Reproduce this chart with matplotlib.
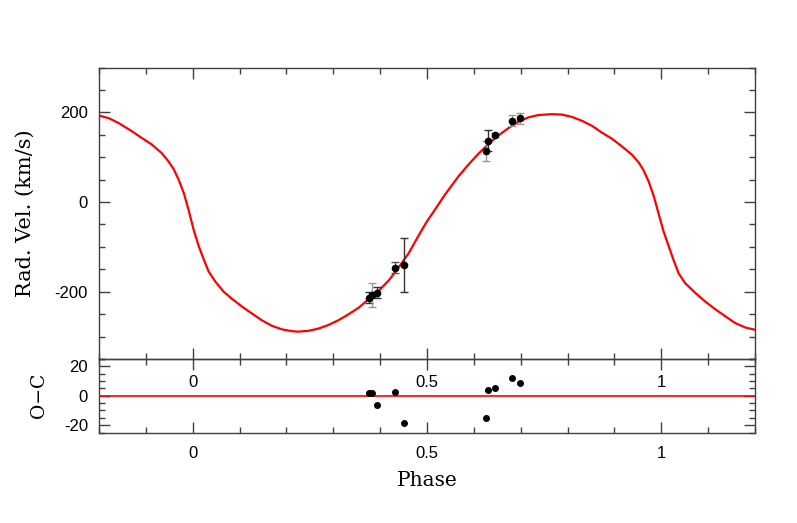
import matplotlib
matplotlib.use("Agg")
import matplotlib.pyplot as plt
from matplotlib.ticker import MultipleLocator, FixedLocator, FixedFormatter

plt.rcParams['axes.unicode_minus'] = False
plt.rcParams['font.family'] = ['Liberation Sans', 'DejaVu Sans']

# ---- observed radial velocities ----
obs_phase = [0.376, 0.382, 0.394, 0.432, 0.450, 0.626, 0.631, 0.645, 0.681, 0.699]
obs_rv = [-213, -207, -202, -146, -140, 114, 137, 150, 181, 187]
obs_err = [13, 27, 12, 11.5, 60, 22, 24, 4, 12, 12]
err_color = ['#333333', '#999999', '#333333', '#555555', '#333333',
             '#999999', '#333333', '#999999', '#999999', '#999999']
obs_resid = [1.6, 2.0, -6.4, 2.5, -18.7, -15.3, 3.8, 5.5, 12.0, 8.9]

# ---- model curve ----
model_phase = [-0.201, -0.179, -0.158, -0.130, -0.109, -0.087, -0.066, -0.052, -0.041, -0.030,
               -0.019, -0.009, 0.002, 0.013, 0.024, 0.034, 0.048, 0.066, 0.084, 0.105,
               0.127, 0.148, 0.169, 0.191, 0.212, 0.226, 0.248, 0.269, 0.290, 0.312,
               0.333, 0.355, 0.376, 0.397, 0.419, 0.440, 0.461, 0.483, 0.500, 0.517,
               0.538, 0.567, 0.588, 0.610, 0.631, 0.653, 0.674, 0.695, 0.717, 0.738,
               0.767, 0.788, 0.809, 0.831, 0.852, 0.873, 0.895, 0.916, 0.937, 0.952,
               0.962, 0.973, 0.984, 0.994, 1.005, 1.016, 1.026, 1.037, 1.051, 1.073,
               1.094, 1.115, 1.137, 1.158, 1.180, 1.201]
model_rv = [193, 187, 176, 158, 143, 128, 109, 91, 74, 50,
            20, -17, -62, -99, -129, -155, -177, -200, -216, -233,
            -249, -264, -276, -284, -288, -289, -287, -282, -274, -263,
            -250, -235, -216, -198, -174, -145, -114, -73, -43, -17,
            16, 57, 83, 108, 129, 149, 165, 179, 189, 194,
            196, 195, 190, 181, 170, 155, 141, 124, 106, 88,
            71, 46, 13, -25, -66, -99, -129, -159, -181, -203,
            -222, -239, -255, -270, -280, -285]

xtick_vals = [0, 0.5, 1]
xtick_labels = ['0', '0.5', '1']
ytick_main = [-200, 0, 200]
ytick_main_labels = ['-200', '0', '200']
ytick_res = [-20, 0, 20]
ytick_res_labels = ['-20', '0', '20']

W, H = 797, 523
fig = plt.figure(figsize=(W / 100, H / 100), dpi=100)
L, R = 99 / W, 755 / W
ax = fig.add_axes([L, 1 - 359 / H, R - L, (359 - 67.5) / H])
axr = fig.add_axes([L, 1 - 432.5 / H, R - L, (432.5 - 359) / H])
ax.set_zorder(2)
axr.set_zorder(1)
ax.patch.set_alpha(0)

spine_c = '#404040'
for a in (ax, axr):
    for s in a.spines.values():
        s.set_color(spine_c)
        s.set_linewidth(1.0)
    a.tick_params(which='both', direction='in', top=True, right=True,
                  color=spine_c, labelsize=12, width=1.0)
    a.tick_params(which='major', length=8)
    a.tick_params(which='minor', length=4.5)
    a.set_xlim(-0.2, 1.2)
    a.xaxis.set_major_locator(FixedLocator(xtick_vals))
    a.xaxis.set_major_formatter(FixedFormatter(xtick_labels))
    a.xaxis.set_minor_locator(MultipleLocator(0.1))

# main panel
ax.plot(model_phase, model_rv, color='#ff0000', lw=1.6, solid_joinstyle='round', zorder=2)
for p, v, e, c in zip(obs_phase, obs_rv, obs_err, err_color):
    ax.errorbar(p, v, yerr=e, fmt='none', ecolor=c, elinewidth=1.0, capsize=3, capthick=1.0, zorder=3)
ax.plot(obs_phase, obs_rv, 'o', color='black', ms=4.5, zorder=4)
ax.set_ylim(-350, 300)
ax.yaxis.set_major_locator(FixedLocator(ytick_main))
ax.yaxis.set_major_formatter(FixedFormatter(ytick_main_labels))
ax.yaxis.set_minor_locator(MultipleLocator(50))
ax.tick_params(axis='x', which='both', labelbottom=True, pad=11.5)
ax.tick_params(axis='y', pad=8)
ax.set_ylabel('Rad. Vel. (km/s)', family=['DejaVu Serif'], fontsize=15)

# residual panel
axr.axhline(0, color='#ff0000', lw=1.2, zorder=2)
axr.plot(obs_phase, obs_resid, 'o', color='black', ms=4, zorder=3)
axr.set_ylim(-25, 25)
axr.yaxis.set_major_locator(FixedLocator(ytick_res))
axr.yaxis.set_major_formatter(FixedFormatter(ytick_res_labels))
axr.yaxis.set_minor_locator(MultipleLocator(5))
axr.tick_params(axis='x', which='both', pad=10)
axr.tick_params(axis='y', pad=8)
axr.set_ylabel('O\u2212C', family=['DejaVu Serif'], fontsize=13.5)
axr.set_xlabel('Phase', family=['DejaVu Serif'], fontsize=14.5, labelpad=7)
ax.yaxis.set_label_coords(-(99 - 35) / (755 - 99), 0.5)
axr.yaxis.set_label_coords(-(99 - 48) / (755 - 99), 0.5)

fig.savefig('out.png', dpi=100)
